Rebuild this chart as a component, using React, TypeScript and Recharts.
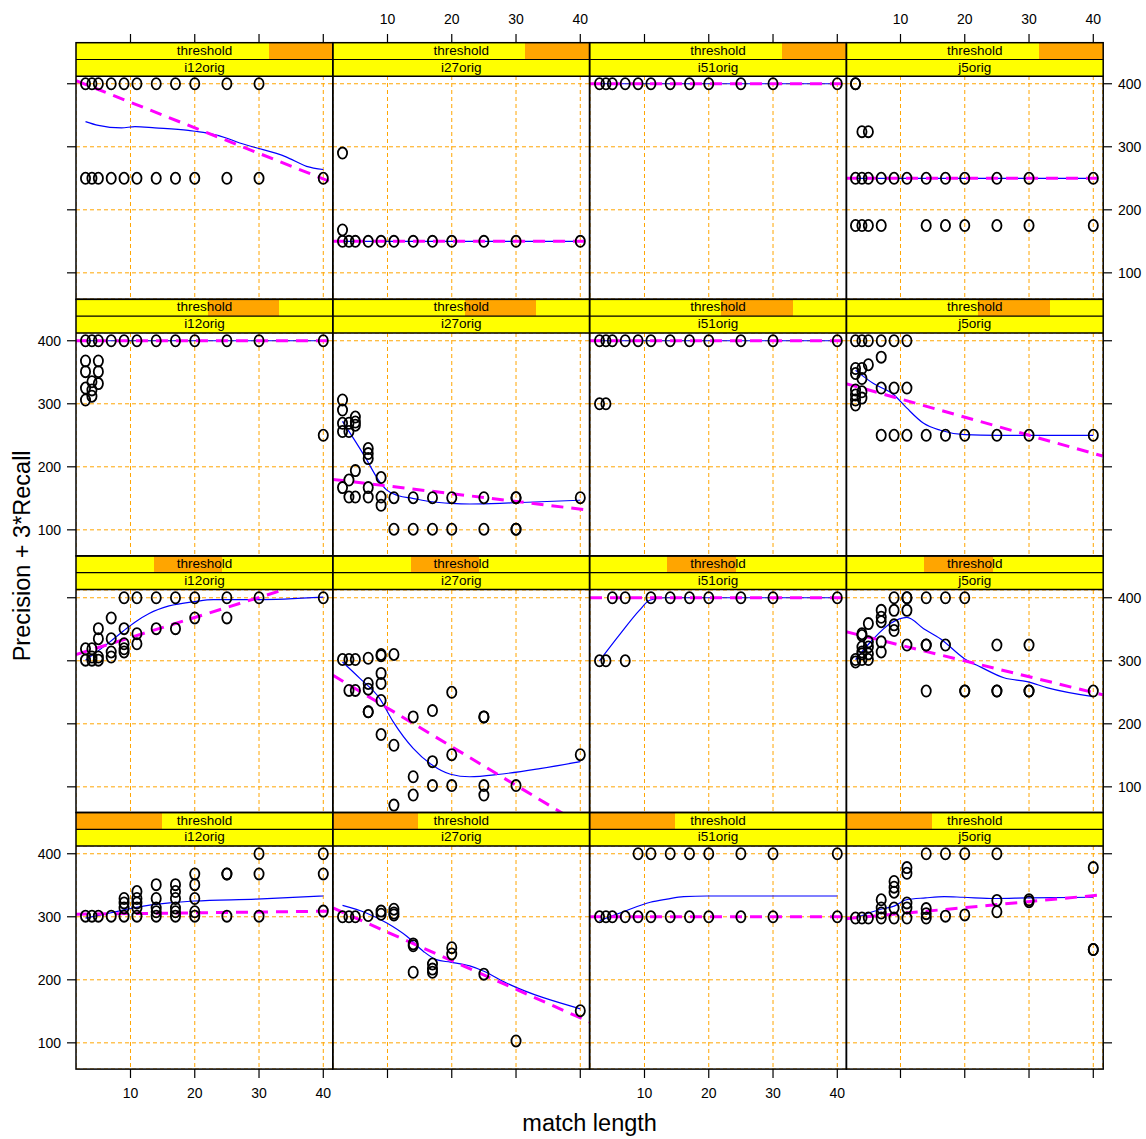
import React from 'react';
import { ComposedChart, Scatter, Line, XAxis, YAxis, CartesianGrid } from 'recharts';

type P = [number, number];

// ---------- axis / labels ----------
const xTicks = [10, 20, 30, 40];
const yTicks = [100, 200, 300, 400];
const colNames = ['i12orig', 'i27orig', 'i51orig', 'j5orig'];
const stripTitle = 'threshold';
// shaded part of the "threshold" strip, per row (top to bottom), as fraction of width
const thresholdShade: P[] = [[0.75, 1], [0.513, 0.791], [0.303, 0.57], [0, 0.333]];
const xTitle = 'match length';
const yTitle = 'Precision + 3*Recall';

// ---------- row 1 (top) ----------
const r1_i12_pts: P[] = [[3,400],[4,400],[5,400],[7,400],[9,400],[11,400],[14,400],[17,400],[20,400],[25,400],[30,400],
  [3,250],[4,250],[5,250],[7,250],[9,250],[11,250],[14,250],[17,250],[20,250],[25,250],[30,250],[40,250]];
const r1_i12_loess: P[] = [[3,340],[5,334],[8.6,330],[10.7,332],[13.8,330],[19,326],[21.8,322],[24.9,314],[27,306],[29,300],[34.2,284],[37.4,269],[40,264]];
const r1_i12_lm: P[] = [[1.52,405],[41.48,243]];

const r1_i27_pts: P[] = [[3,290],[3,168],[3,150],[4,150],[5,150],[7,150],[9,150],[11,150],[14,150],[17,150],[20,150],[25,150],[30,150],[40,150]];
const r1_i27_loess: P[] = [[3,150],[40,150]];
const r1_i27_lm: P[] = [[1.52,150],[41.48,150]];

const r1_i51_pts: P[] = [[3,400],[4,400],[5,400],[7,400],[9,400],[11,400],[14,400],[17,400],[20,400],[25,400],[30,400],[40,400]];
const r1_i51_loess: P[] = [[3,400],[40,400]];
const r1_i51_lm: P[] = [[1.52,400],[41.48,400]];

const r1_j5_pts: P[] = [[3,400],[3,400],[4,324],[5,324],
  [3,250],[4,250],[5,250],[7,250],[9,250],[11,250],[14,250],[17,250],[20,250],[25,250],[30,250],[40,250],
  [3,175],[4,175],[5,175],[7,175],[14,175],[17,175],[20,175],[25,175],[30,175],[40,175]];
const r1_j5_loess: P[] = [[3,250],[40,250]];
const r1_j5_lm: P[] = [[1.52,250],[41.48,250]];

// ---------- row 2 ----------
const r2_i12_pts: P[] = [[3,400],[4,400],[5,400],[7,400],[9,400],[11,400],[14,400],[17,400],[20,400],[25,400],[30,400],[40,400],
  [3,368],[3,351],[3,325],[3,306],[4,335],[4,322],[4,312],[5,368],[5,351],[5,332],[40,250]];
const r2_i12_loess: P[] = [[3,400],[40,400]];
const r2_i12_lm: P[] = [[1.52,400],[41.48,400]];

const r2_i27_pts: P[] = [[3,306],[3,290],[3,269],[3,256],[4,269],[4,256],[5,279],[5,271],[5,266],[7,229],[7,221],[7,213],
  [5,194],[4,179],[3,167],[4,152],[5,152],[7,167],[7,152],[9,183],[9,152],[9,139],
  [11,151],[11,101],[14,151],[14,101],[17,151],[17,101],[20,151],[20,101],[25,151],[25,101],[30,151],[30,101],[30,151],[30,101],[40,151]];
const r2_i27_loess: P[] = [[3,272],[6.6,214],[8.6,179],[9.9,163],[11.7,154],[13.9,150],[16.6,145],[19.9,142],[22.8,141],[27.5,142],[29.8,143],[40,147]];
const r2_i27_lm: P[] = [[1.52,180],[41.48,131]];

const r2_i51_pts: P[] = [[3,400],[4,400],[5,400],[7,400],[9,400],[11,400],[14,400],[17,400],[20,400],[25,400],[30,400],[40,400],[3,300],[4,300]];
const r2_i51_loess: P[] = [[3,400],[40,400]];
const r2_i51_lm: P[] = [[1.52,400],[41.48,400]];

const r2_j5_pts: P[] = [[3,400],[4,400],[5,400],[7,400],[9,400],[11,400],[7,374],[5,362],
  [3,356],[3,348],[3,322],[3,314],[3,306],[3,298],[4,356],[4,340],[4,319],[4,309],[7,325],[9,325],[11,325],
  [7,250],[9,250],[11,250],[14,250],[17,250],[20,250],[25,250],[30,250],[40,250]];
const r2_j5_loess: P[] = [[3,353],[5.8,332],[9,314],[11,293],[13.6,269],[16.2,258],[20,251],[25,250],[40,250]];
const r2_j5_lm: P[] = [[1.52,332],[41.48,217]];

// ---------- row 3 ----------
const r3_i12_pts: P[] = [[9,400],[11,400],[14,400],[17,400],[20,400],[25,400],[30,400],[40,400],
  [7,368],[20,368],[25,368],[5,351],[9,351],[14,351],[17,351],[11,343],[5,335],[7,335],[9,327],[11,327],
  [3,319],[4,319],[9,319],[7,314],[9,314],[4,306],[5,306],[7,306],[3,301],[4,301],[5,301]];
const r3_i12_loess: P[] = [[3,301],[6.8,330],[8.85,347],[10.8,362],[12.9,375],[16,387],[20,394],[22.9,397],[29.6,397],[40,401]];
const r3_i12_lm: P[] = [[1.52,310],[41.48,437]];

const r3_i27_pts: P[] = [[3,302],[4,302],[5,302],[7,304],[9,310],[9,308],[11,310],[9,280],[9,264],[7,264],[4,253],[5,253],[7,255],
  [20,250],[9,237],[17,221],[7,219],[7,219],[14,211],[25,211],[25,211],[9,183],[11,166],[20,151],[40,151],[17,140],[14,116],
  [17,102],[20,102],[25,102],[30,102],[14,87],[25,87],[11,71]];
const r3_i27_loess: P[] = [[3,298],[5.7,272],[8.8,240],[10.9,203],[14,161],[16.9,135],[19.8,120],[22.8,116],[27.5,120],[33.7,129],[40,140]];
const r3_i27_lm: P[] = [[1.52,277],[41.48,32]];

const r3_i51_pts: P[] = [[5,400],[7,400],[11,400],[14,400],[17,400],[20,400],[25,400],[30,400],[40,400],[3,300],[4,300],[7,300]];
const r3_i51_loess: P[] = [[3,300],[6.1,341],[9.2,380],[10.8,396],[13.1,400],[40,400]];
const r3_i51_lm: P[] = [[1.52,400],[41.48,400]];

const r3_j5_pts: P[] = [[9,400],[11,400],[11,400],[14,400],[17,400],[20,400],[7,380],[9,380],[11,380],[7,369],[7,362],[5,359],[9,357],[9,348],
  [4,343],[4,340],[5,330],[7,330],[11,325],[14,325],[14,325],[17,325],[25,325],[30,325],[4,322],[5,322],[4,314],[7,314],[4,311],[5,311],
  [3,302],[4,302],[5,302],[3,298],[14,252],[20,252],[20,252],[25,252],[25,252],[30,252],[30,252],[40,252]];
const r3_j5_loess: P[] = [[3,302],[5.8,335],[8.4,359],[11,369],[13.6,351],[16.2,335],[20,303],[22.5,290],[26.1,273],[29.7,267],[32.9,257],[40,243]];
const r3_j5_lm: P[] = [[1.52,346],[41.48,246]];

// ---------- row 4 (bottom) ----------
const r4_i12_pts: P[] = [[30,400],[40,400],[20,368],[25,368],[25,368],[30,368],[40,368],[14,351],[17,351],[20,351],[11,340],[17,340],
  [9,329],[11,329],[14,329],[17,329],[20,329],[9,322],[11,322],[9,314],[11,314],[14,314],[17,314],[14,308],[17,308],[20,308],[40,309],
  [3,301],[4,301],[5,301],[7,301],[9,301],[11,301],[14,301],[17,301],[20,301],[25,301],[30,301]];
const r4_i12_loess: P[] = [[3,298],[6.8,306],[10.9,315],[16.1,322],[19.9,325],[29.6,328],[40,333]];
const r4_i12_lm: P[] = [[1.52,304],[41.48,309]];

const r4_i27_pts: P[] = [[3,300],[4,300],[5,300],[7,302],[9,309],[9,304],[11,312],[11,306],[11,303],[14,257],[14,254],[20,251],[20,241],
  [17,225],[17,217],[17,212],[14,212],[25,209],[40,151],[30,103]];
const r4_i27_loess: P[] = [[3,318],[6.7,306],[9.9,290],[13,269],[15.6,245],[17.6,232],[19.8,228],[22.8,222],[24.9,214],[28.5,195],[40,154]];
const r4_i27_lm: P[] = [[1.52,314],[41.48,133]];

const r4_i51_pts: P[] = [[9,400],[11,400],[14,400],[17,400],[20,400],[25,400],[30,400],[40,400],
  [3,300],[4,300],[5,300],[7,300],[9,300],[11,300],[14,300],[17,300],[20,300],[25,300],[30,300],[40,300]];
const r4_i51_loess: P[] = [[3,294],[6.7,308],[10.9,323],[13.5,328],[16.1,332],[19.7,333],[40,333]];
const r4_i51_lm: P[] = [[1.52,300],[41.48,300]];

const r4_j5_pts: P[] = [[14,400],[17,400],[20,400],[25,400],[40,378],[11,378],[11,369],[9,356],[9,347],[9,339],[7,327],[25,326],[30,327],[30,324],
  [11,322],[11,314],[7,314],[9,314],[14,313],[14,305],[25,308],[7,306],[17,301],[20,303],
  [3,298],[4,298],[5,298],[7,298],[9,298],[11,298],[14,298],[40,248],[40,248]];
const r4_j5_loess: P[] = [[3,298],[6.9,312],[9,317],[10.9,327],[13.9,330],[16.8,332],[19.7,331],[24.8,329],[29.7,330],[40,331]];
const r4_j5_lm: P[] = [[1.52,297],[41.48,335]];

const panelPts: P[][][] = [
  [r1_i12_pts, r1_i27_pts, r1_i51_pts, r1_j5_pts],
  [r2_i12_pts, r2_i27_pts, r2_i51_pts, r2_j5_pts],
  [r3_i12_pts, r3_i27_pts, r3_i51_pts, r3_j5_pts],
  [r4_i12_pts, r4_i27_pts, r4_i51_pts, r4_j5_pts],
];
const panelLoess: P[][][] = [
  [r1_i12_loess, r1_i27_loess, r1_i51_loess, r1_j5_loess],
  [r2_i12_loess, r2_i27_loess, r2_i51_loess, r2_j5_loess],
  [r3_i12_loess, r3_i27_loess, r3_i51_loess, r3_j5_loess],
  [r4_i12_loess, r4_i27_loess, r4_i51_loess, r4_j5_loess],
];
const panelLm: P[][][] = [
  [r1_i12_lm, r1_i27_lm, r1_i51_lm, r1_j5_lm],
  [r2_i12_lm, r2_i27_lm, r2_i51_lm, r2_j5_lm],
  [r3_i12_lm, r3_i27_lm, r3_i51_lm, r3_j5_lm],
  [r4_i12_lm, r4_i27_lm, r4_i51_lm, r4_j5_lm],
];

// ---------- layout ----------
const FONT = '"Liberation Sans", Arial, Helvetica, sans-serif';
const X_DOMAIN: [number, number] = [1.52, 41.48];
const Y_DOMAIN: [number, number] = [58.5, 412.3];
const PL = 76;      // left of first panel
const PW = 256.8;   // panel width
const PT = 42.7;    // top of first row (strip top)
const RH = 256.6;   // row pitch
const SH = 16.8;    // strip height
const PH = RH - 2 * SH; // plot height
const YELLOW = '#FFFF00';
const ORANGE = '#FFA500';

const toXY = (a: P[]) => a.map(([x, y]) => ({ x, y }));

const CircleO = (props: any) => {
  const { cx, cy } = props;
  if (cx == null || cy == null) return <g />;
  return <ellipse cx={cx} cy={cy} rx={4.6} ry={5.6} fill="none" stroke="#000" strokeWidth={1.8} />;
};

function Panel({ r, c }: { r: number; c: number }) {
  const left = PL + c * PW;
  const top = PT + r * RH + 2 * SH;
  return (
    <div style={{ position: 'absolute', left, top, width: PW, height: PH }}>
      <ComposedChart width={PW} height={PH} margin={{ top: 0, right: 0, bottom: 0, left: 0 }}>
        <XAxis type="number" dataKey="x" domain={X_DOMAIN} ticks={xTicks} hide allowDataOverflow />
        <YAxis type="number" dataKey="y" domain={Y_DOMAIN} ticks={yTicks} hide allowDataOverflow />
        <CartesianGrid stroke={ORANGE} strokeDasharray="4 3" strokeWidth={1} />
        <Scatter data={toXY(panelPts[r][c])} dataKey="y" shape={CircleO} isAnimationActive={false} />
        <Line data={toXY(panelLoess[r][c])} dataKey="y" type="monotone" stroke="#0000FF" strokeWidth={1.2}
          dot={false} activeDot={false} isAnimationActive={false} />
        <Line data={toXY(panelLm[r][c])} dataKey="y" type="linear" stroke="#FF00FF" strokeWidth={3}
          strokeDasharray="12 8" dot={false} activeDot={false} isAnimationActive={false} />
      </ComposedChart>
    </div>
  );
}

const noTick = () => <g />;
const tickStyle = { fill: '#000', fontSize: 14, fontFamily: FONT };
const xTickData = xTicks.map((x) => ({ x, y: 0.5 }));
const yTickData = yTicks.map((y) => ({ x: 0.5, y }));

function XAxisBar({ c, side, labels }: { c: number; side: 'top' | 'bottom'; labels: boolean }) {
  const left = PL + c * PW - 20;
  const top = side === 'top' ? PT - 40 : PT + 4 * RH - 10;
  return (
    <div style={{ position: 'absolute', left, top }}>
      <ComposedChart width={PW + 40} height={50} data={xTickData}
        margin={{ top: 0, right: 20, bottom: 0, left: 20 }}>
        <XAxis type="number" dataKey="x" domain={X_DOMAIN} ticks={xTicks} interval={0} orientation={side} height={40}
          allowDataOverflow axisLine={false} tickSize={9} tickMargin={10}
          tickLine={{ stroke: '#000', strokeWidth: 1.2 }} tick={labels ? tickStyle : noTick} />
        <YAxis hide type="number" dataKey="y" domain={[0, 1]} />
        <Scatter dataKey="y" shape={noTick} isAnimationActive={false} />
      </ComposedChart>
    </div>
  );
}

function YAxisBar({ r, side, labels }: { r: number; side: 'left' | 'right'; labels: boolean }) {
  const left = side === 'left' ? PL - 60 : PL + 4 * PW - 10;
  const top = PT + r * RH + 2 * SH;
  return (
    <div style={{ position: 'absolute', left, top }}>
      <ComposedChart width={70} height={PH} data={yTickData} margin={{ top: 0, right: 0, bottom: 0, left: 0 }}>
        <XAxis hide type="number" dataKey="x" domain={[0, 1]} />
        <YAxis type="number" dataKey="y" domain={Y_DOMAIN} ticks={yTicks} interval={0} orientation={side} width={60}
          allowDataOverflow axisLine={false} tickSize={9} tickMargin={6}
          tickLine={{ stroke: '#000', strokeWidth: 1.2 }} tick={labels ? tickStyle : noTick} />
      </ComposedChart>
    </div>
  );
}

function Strips({ r, c }: { r: number; c: number }) {
  const left = PL + c * PW;
  const top = PT + r * RH;
  const [a, b] = thresholdShade[r];
  const textStyle: React.CSSProperties = {
    position: 'absolute', left: 0, top: 0, width: '100%', height: SH, lineHeight: `${SH}px`,
    textAlign: 'center', fontFamily: FONT, fontSize: 13.5, color: '#000',
  };
  return (
    <>
      <div style={{ position: 'absolute', left, top, width: PW, height: SH, background: YELLOW, overflow: 'hidden' }}>
        <div style={{ position: 'absolute', left: a * PW, top: 0, width: (b - a) * PW, height: SH, background: ORANGE }} />
        <div style={textStyle}>{stripTitle}</div>
      </div>
      <div style={{ position: 'absolute', left, top: top + SH, width: PW, height: SH, background: YELLOW, overflow: 'hidden' }}>
        <div style={textStyle}>{colNames[c]}</div>
      </div>
    </>
  );
}

export default function App() {
  const rows = [0, 1, 2, 3];
  const cols = [0, 1, 2, 3];
  return (
    <div style={{ position: 'absolute', left: 0, top: 0, width: 1146, height: 1139, background: '#fff', overflow: 'hidden' }}>
      {rows.map((r) => cols.map((c) => <Strips key={`s${r}${c}`} r={r} c={c} />))}
      {rows.map((r) => cols.map((c) => <Panel key={`p${r}${c}`} r={r} c={c} />))}
      {cols.map((c) => <XAxisBar key={`xt${c}`} c={c} side="top" labels={c % 2 === 1} />)}
      {cols.map((c) => <XAxisBar key={`xb${c}`} c={c} side="bottom" labels={c % 2 === 0} />)}
      {rows.map((r) => <YAxisBar key={`yl${r}`} r={r} side="left" labels={r % 2 === 1} />)}
      {rows.map((r) => <YAxisBar key={`yr${r}`} r={r} side="right" labels={r % 2 === 0} />)}
      <svg width={1146} height={1139} style={{ position: 'absolute', left: 0, top: 0, pointerEvents: 'none' }}>
        {rows.map((r) => cols.map((c) => {
          const x = PL + c * PW;
          const y = PT + r * RH;
          return (
            <g key={`f${r}${c}`} stroke="#000" fill="none">
              <rect x={x} y={y} width={PW} height={RH} strokeWidth={1.5} />
              <line x1={x} x2={x + PW} y1={y + SH} y2={y + SH} strokeWidth={1.2} />
              <line x1={x} x2={x + PW} y1={y + 2 * SH} y2={y + 2 * SH} strokeWidth={1.5} />
            </g>
          );
        }))}
        <text x={PL + 2 * PW} y={1131} textAnchor="middle" fontFamily={FONT} fontSize={23.5} fill="#000">{xTitle}</text>
        <text transform={`translate(29.5, ${PT + 2 * RH}) rotate(-90)`} textAnchor="middle" fontFamily={FONT} fontSize={23.5} fill="#000">{yTitle}</text>
      </svg>
    </div>
  );
}
